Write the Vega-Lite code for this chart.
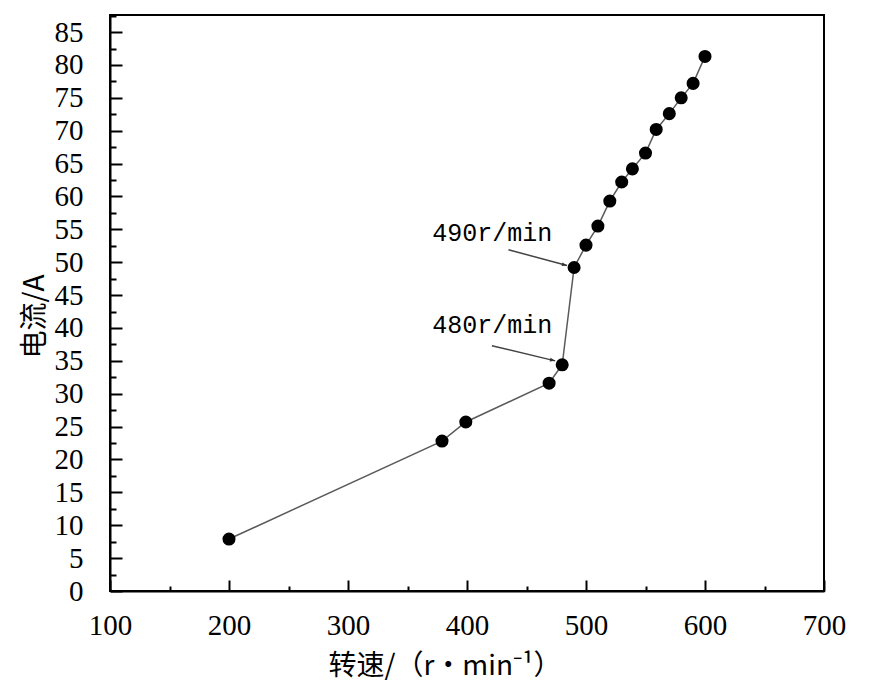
{
  "$schema": "https://vega.github.io/schema/vega-lite/v6.json",
  "width": 714,
  "height": 576,
  "autosize": "none",
  "padding": {"left": 110, "top": 15, "right": 46, "bottom": 105},
  "background": "white",
  "config": {
    "view": {"stroke": "black", "strokeWidth": 2},
    "axis": {
      "grid": false,
      "domainColor": "black",
      "domainWidth": 2,
      "tickColor": "black",
      "tickWidth": 2,
      "labelFont": "Liberation Serif",
      "labelFontSize": 29,
      "labelColor": "black",
      "labelOverlap": false,
      "titleFont": "Noto Sans CJK SC",
      "titleFontSize": 28,
      "titleFontWeight": "normal",
      "titleColor": "black"
    }
  },
  "datasets": {
    "pts": [
      {"speed": 200, "current": 7.9},
      {"speed": 379, "current": 22.8},
      {"speed": 399, "current": 25.7},
      {"speed": 469, "current": 31.6},
      {"speed": 480, "current": 34.4},
      {"speed": 490, "current": 49.2},
      {"speed": 500, "current": 52.6},
      {"speed": 510, "current": 55.5},
      {"speed": 520, "current": 59.3},
      {"speed": 530, "current": 62.2},
      {"speed": 539, "current": 64.2},
      {"speed": 550, "current": 66.6},
      {"speed": 559, "current": 70.2},
      {"speed": 570, "current": 72.6},
      {"speed": 580, "current": 75.0},
      {"speed": 590, "current": 77.2},
      {"speed": 600, "current": 81.3}
    ],
    "arrows": [
      {"x": 434.8, "y": 51.9, "x2": 484.1, "y2": 49.5, "angle": 14},
      {"x": 420.9, "y": 37.3, "x2": 474.1, "y2": 35.0, "angle": 13.4}
    ],
    "labels": [
      {"x": 370.8, "y": 53.2, "text": "490r/min"},
      {"x": 370.8, "y": 39.25, "text": "480r/min"}
    ]
  },
  "resolve": {"axis": {"x": "independent", "y": "independent"}},
  "layer": [
    {
      "data": {"name": "pts"},
      "mark": {"type": "line", "color": "#5a5a5a", "strokeWidth": 1.5},
      "encoding": {
        "x": {
          "field": "speed", "type": "quantitative",
          "scale": {"domain": [100, 700], "nice": false, "zero": false},
          "axis": {
            "orient": "bottom",
            "title": "转速/（r•min⁻¹）",
            "values": [100,200,300,400,500,600,700],
            "tickSize": -11,
            "labelPadding": 31,
            "labelFlush": false,
            "titleAnchor": "start",
            "titleAlign": "left",
            "titleBaseline": "alphabetic",
            "titleX": 218,
            "titleY": 83
          }
        },
        "y": {
          "field": "current", "type": "quantitative",
          "scale": {"domain": [0, 87.6], "nice": false, "zero": true},
          "axis": {
            "orient": "left",
            "title": "电流/A",
            "values": [0,5,10,15,20,25,30,35,40,45,50,55,60,65,70,75,80,85],
            "tickSize": -12,
            "labelPadding": 39,
            "labelFlush": false,
            "titleAngle": -90,
            "titleAlign": "center",
            "titleBaseline": "alphabetic",
            "titleX": -67,
            "titleY": 301
          }
        }
      }
    },
    {
      "data": {"name": "pts"},
      "mark": {"type": "point", "shape": "circle", "filled": true, "color": "black", "opacity": 1, "size": 170},
      "encoding": {
        "x": {
          "field": "speed", "type": "quantitative",
          "axis": {"orient": "bottom", "title": null, "labels": false, "domain": false, "tickSize": -5, "values": [150,250,350,450,550,650]}
        },
        "y": {
          "field": "current", "type": "quantitative",
          "axis": {"orient": "left", "title": null, "labels": false, "domain": false, "tickSize": -6, "values": [2.5,7.5,12.5,17.5,22.5,27.5,32.5,37.5,42.5,47.5,52.5,57.5,62.5,67.5,72.5,77.5,82.5,87.5]}
        }
      }
    },
    {
      "data": {"name": "arrows"},
      "mark": {"type": "rule", "color": "#444444", "strokeWidth": 1.5},
      "encoding": {
        "x": {"field": "x", "type": "quantitative", "axis": null},
        "y": {"field": "y", "type": "quantitative", "axis": null},
        "x2": {"field": "x2"},
        "y2": {"field": "y2"}
      }
    },
    {
      "data": {"name": "arrows"},
      "mark": {"type": "point", "shape": "M0,0 L-1,-0.35 L-1,0.35 Z", "filled": true, "color": "#333333", "opacity": 1, "size": 110},
      "encoding": {
        "x": {"field": "x2", "type": "quantitative", "axis": null},
        "y": {"field": "y2", "type": "quantitative", "axis": null},
        "angle": {"field": "angle", "type": "quantitative", "scale": null}
      }
    },
    {
      "data": {"name": "labels"},
      "mark": {"type": "text", "font": "Liberation Mono", "fontSize": 25, "align": "left", "baseline": "alphabetic", "color": "black"},
      "encoding": {
        "x": {"field": "x", "type": "quantitative", "axis": null},
        "y": {"field": "y", "type": "quantitative", "axis": null},
        "text": {"field": "text"}
      }
    }
  ]
}
